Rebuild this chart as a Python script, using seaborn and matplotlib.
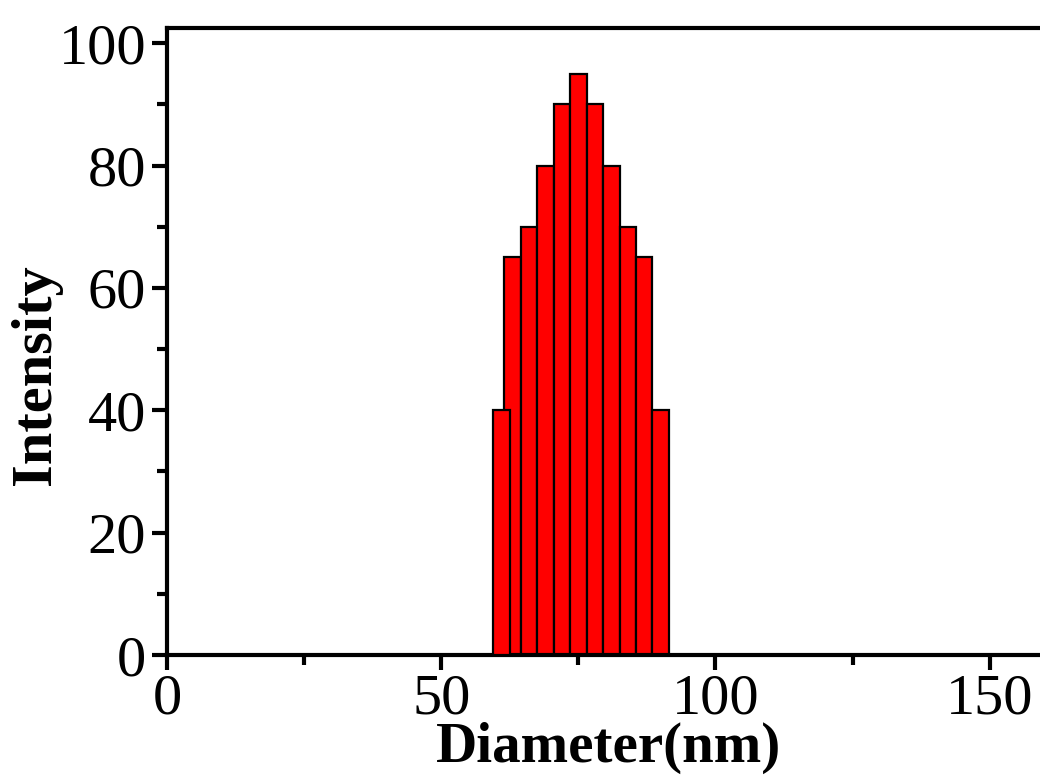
import matplotlib
matplotlib.use("Agg")
import matplotlib.pyplot as plt
import seaborn as sns
import pandas as pd
from matplotlib.ticker import MultipleLocator

# Data
diameters = [61, 63, 66, 69, 72, 75, 78, 81, 84, 87, 90]
intensity = [40, 65, 70, 80, 90, 95, 90, 80, 70, 65, 40]

xlabel = "Diameter(nm)"
ylabel = "Intensity"

sns.set_theme(style="ticks")
plt.rcParams['font.family'] = ['Liberation Serif', 'DejaVu Serif']
plt.rcParams.update({
    "text.color": "black", "axes.labelcolor": "black",
    "xtick.color": "black", "ytick.color": "black",
    "axes.edgecolor": "black",
})

df = pd.DataFrame({"d": diameters, "i": intensity})

fig = plt.figure(figsize=(10.4, 7.79), dpi=100)
ax = fig.add_axes([167/1040, 124/779, 905/1040, 627/779])

sns.barplot(data=df, x="d", y="i", native_scale=True, width=1.5,
            color="#ff0000", saturation=1, edgecolor="black", linewidth=1.6, ax=ax)
ax.patches[0].set_zorder(3)

ax.set_xlim(0, 165)
ax.set_ylim(0, 102.5)
ax.xaxis.set_major_locator(MultipleLocator(50))
ax.xaxis.set_minor_locator(MultipleLocator(25))
ax.yaxis.set_major_locator(MultipleLocator(20))
ax.yaxis.set_minor_locator(MultipleLocator(10))

for s in ax.spines.values():
    s.set_linewidth(3)
    s.set_visible(True)
    s.set_color("black")
ax.tick_params(which="major", length=11, width=3, direction="out",
               labelsize=42, pad=4, color="black", labelcolor="black")
ax.tick_params(axis="x", which="major", pad=2)
ax.tick_params(which="minor", length=7, width=3, direction="out", color="black")
ax.tick_params(top=False, right=False, which="both")

ax.set_xlabel(xlabel, fontsize=41, fontweight="bold", color="black")
ax.set_ylabel(ylabel, fontsize=42, fontweight="bold", color="black")
ax.xaxis.set_label_coords(0.488, -0.107)
ax.yaxis.set_label_coords(-0.116, 0.447)

fig.savefig("out.png", dpi=100)
